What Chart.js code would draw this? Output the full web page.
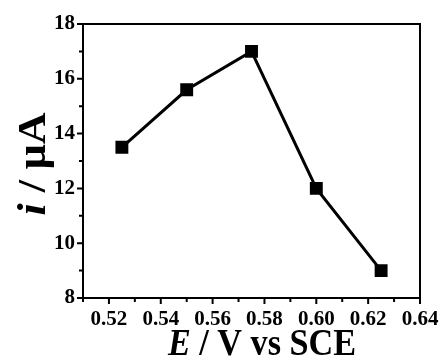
<!DOCTYPE html>
<html>
<head>
<meta charset="utf-8">
<script src="https://cdn.jsdelivr.net/npm/chart.js@4.4.0/dist/chart.umd.min.js"></script>
<style>
	html, body { margin: 0; padding: 0; background: #fff; }
	#wrap { width: 440px; height: 360px; }
</style>
</head>
<body>
<div id="wrap"><canvas id="c" width="440" height="360"></canvas></div>
<script>
// 데이터: 전위(E) 별 피크 전류(i)
const potentials = [0.525, 0.55, 0.575, 0.6, 0.625];
const currents = [13.5, 15.6, 17.0, 12.0, 9.0];

// 축 범위
const xRange = [0.51, 0.64];
const yRange = [8, 18];

const serif = "'Liberation Serif', 'Times New Roman', serif";

// 테두리 + 눈금(주/보조) + 축 제목 직접 그리기
const framePlugin = {
	id: "frame",
	afterDraw(chart) {
		const { ctx, chartArea: a, scales } = chart;
		const xs = scales.x;
		const ys = scales.y;
		ctx.save();
		ctx.strokeStyle = "#000";
		ctx.lineWidth = 2;
		ctx.strokeRect(a.left, a.top, a.right - a.left, a.bottom - a.top);

		ctx.beginPath();
		xs.ticks.forEach((t) => {
			const px = xs.getPixelForValue(t.value);
			const major = Math.round(t.value * 100) % 2 === 0;
			ctx.moveTo(px, a.bottom);
			ctx.lineTo(px, a.bottom + (major ? 6 : 4));
		});
		ys.ticks.forEach((t) => {
			const py = ys.getPixelForValue(t.value);
			const major = Math.round(t.value) % 2 === 0;
			ctx.moveTo(a.left, py);
			ctx.lineTo(a.left - (major ? 6 : 4), py);
		});
		ctx.stroke();

		// 축 제목 (이탤릭 섞인 텍스트)
		ctx.fillStyle = "#000";
		ctx.textBaseline = "alphabetic";
		ctx.textAlign = "left";
		const drawParts = (parts, cx, cy) => {
			let total = 0;
			parts.forEach((p) => {
				ctx.font = p.font;
				p.w = ctx.measureText(p.text).width;
				total += p.w;
			});
			let x = cx - total / 2;
			parts.forEach((p) => {
				ctx.font = p.font;
				ctx.fillText(p.text, x, cy);
				x += p.w;
			});
		};

		// x 제목
		ctx.save();
		ctx.translate(262, 355);
		ctx.scale(0.9, 1);
		drawParts(
			[
				{ text: "E", font: "italic bold 38px " + serif },
				{ text: " / V vs SCE", font: "bold 38px " + serif },
			],
			0,
			0
		);
		ctx.restore();

		// y 제목
		ctx.save();
		ctx.translate(45, 164);
		ctx.rotate(-Math.PI / 2);
		ctx.scale(1, 0.9);
		drawParts(
			[
				{ text: "i", font: "italic bold 44px " + serif },
				{ text: " / μA", font: "bold 44px " + serif },
			],
			0,
			0
		);
		ctx.restore();
		ctx.restore();
	},
};

const ctx = document.getElementById("c").getContext("2d");
new Chart(ctx, {
	type: "scatter",
	data: {
		datasets: [
			{
				data: potentials.map((e, i) => ({ x: e, y: currents[i] })),
				showLine: true,
				borderColor: "#000",
				backgroundColor: "#000",
				borderWidth: 3,
				pointStyle: "rect",
				pointRadius: 7,
				pointHoverRadius: 7,
				tension: 0,
			},
		],
	},
	options: {
		responsive: false,
		animation: false,
		layout: { padding: { top: 24, right: 20, left: 0, bottom: 0 } },
		plugins: {
			legend: { display: false },
			tooltip: { enabled: false },
		},
		scales: {
			x: {
				type: "linear",
				min: xRange[0],
				max: xRange[1],
				afterFit: (s) => {
					s.height = 62;
					s.paddingLeft = 0;
					s.paddingRight = 0;
				},
				border: { display: false },
				grid: { display: false, drawTicks: false },
				ticks: {
					stepSize: 0.01,
					padding: 9,
					color: "#000",
					font: { family: serif, size: 21, weight: "bold" },
					maxRotation: 0,
					autoSkip: false,
					callback: (v) => {
						const n = Math.round(v * 100);
						return n % 2 === 0 ? (n / 100).toFixed(2) : "";
					},
				},
			},
			y: {
				min: yRange[0],
				max: yRange[1],
				afterFit: (s) => {
					s.width = 83;
					s.paddingTop = 0;
					s.paddingBottom = 0;
				},
				border: { display: false },
				grid: { display: false, drawTicks: false },
				ticks: {
					stepSize: 1,
					padding: 8,
					color: "#000",
					font: { family: serif, size: 21, weight: "bold" },
					autoSkip: false,
					callback: (v) => (Math.round(v) % 2 === 0 ? String(v) : ""),
				},
			},
		},
	},
	plugins: [framePlugin],
});
</script>
</body>
</html>
